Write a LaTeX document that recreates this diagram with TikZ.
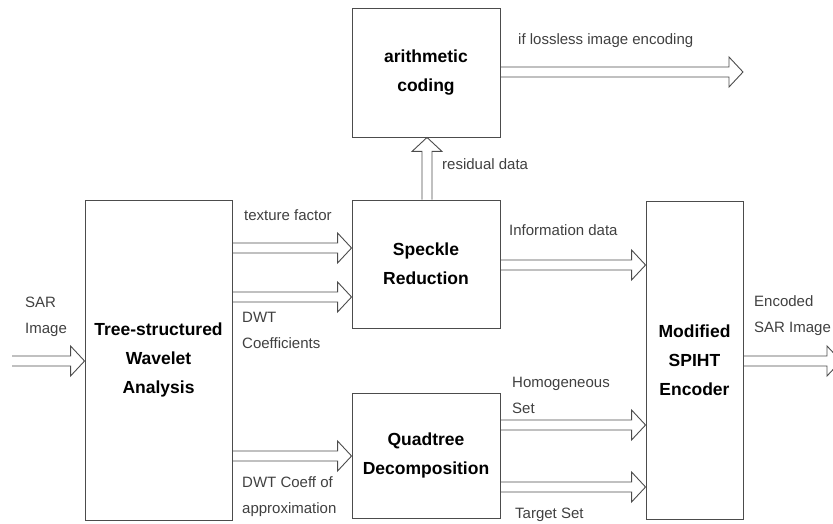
\documentclass[tikz,border=0pt]{standalone}
\usepackage{fontspec}
\setmainfont{Liberation Sans}
\usetikzlibrary{calc}
\tikzset{
  box/.style={draw=black!70, line width=0.9pt, fill=white, align=center, inner sep=0pt,
    font=\fontsize{17.5}{29}\selectfont\bfseries},
  lbl/.style={align=left, inner sep=0pt, anchor=base west, text=black!75,
    font=\fontsize{15}{25.5}\selectfont},
  blockarr/.style={draw=black!70, line width=0.9pt, line join=miter,
    to path={let \p1=(\tikztostart), \p2=(\tikztotarget),
      \n1={veclen(\x2-\x1,\y2-\y1)}, \n2={atan2(\y2-\y1,\x2-\x1)} in
      ($(\p1)+(\n2+90:5)$) -- ($(\p1)+(\n2:\n1-14)+(\n2+90:5)$) --
      ($(\p1)+(\n2:\n1-14)+(\n2+90:15)$) -- (\p2) --
      ($(\p1)+(\n2:\n1-14)+(\n2-90:15)$) -- ($(\p1)+(\n2:\n1-14)+(\n2-90:5)$) --
      ($(\p1)+(\n2-90:5)$)}}
}
\begin{document}
\begin{tikzpicture}[x=1pt,y=1pt]
\useasboundingbox (0,0) rectangle (833,-524);
\clip (0,0) rectangle (833,-524);
% boxes
\node[box, minimum width=148pt, minimum height=129pt] (arith) at (426,-72.5) {arithmetic\\coding};
\node[box, minimum width=148pt, minimum height=128pt] (speckle) at (426,-264) {Speckle\\Reduction};
\node[box, minimum width=148pt, minimum height=125pt] (quad) at (426,-455.5) {Quadtree\\Decomposition};
\node[box, minimum width=147pt, minimum height=320pt] (tree) at (158.5,-360) {Tree-structured\\Wavelet\\Analysis};
\node[box, minimum width=97pt, minimum height=318pt] (spiht) at (694.5,-360) {Modified\\SPIHT\\Encoder};
% free ends
\coordinate (in) at (12,-361);
\coordinate (out) at (841,-361);
\coordinate (lossless) at (743,-72);
% arrows
\draw[blockarr] (in) to (tree.west |- in);
\draw[blockarr] (tree.east |- 0,-248) to (speckle.west |- 0,-248);
\draw[blockarr] (tree.east |- 0,-297) to (speckle.west |- 0,-297);
\draw[blockarr] (tree.east |- 0,-456) to (quad.west |- 0,-456);
\draw[blockarr] (speckle.east |- 0,-265) to (spiht.west |- 0,-265);
\draw[blockarr] (quad.east |- 0,-425) to (spiht.west |- 0,-425);
\draw[blockarr] (quad.east |- 0,-487) to (spiht.west |- 0,-487);
\draw[blockarr] (spiht.east |- out) to (out);
\draw[blockarr] (arith.east |- lossless) to (lossless);
\draw[blockarr] (speckle.north -| 427,0) to (arith.south -| 427,0);
% labels
\node[lbl] (l1) at (25,-333) {SAR\\Image};
\node[lbl] (l2) at (244,-220) {texture factor};
\node[lbl] (l3) at (242,-348) {DWT\\Coefficients};
\node[lbl] (l4) at (242,-513) {DWT Coeff of\\approximation};
\node[lbl] (l5) at (518,-45) {if lossless image encoding};
\node[lbl] (l6) at (442,-170) {residual data};
\node[lbl] (l7) at (509,-235) {Information data};
\node[lbl] (l8) at (512,-413) {Homogeneous\\Set};
\node[lbl] (l9) at (515,-518) {Target Set};
\node[lbl] (l10) at (754,-332) {Encoded\\SAR Image};
\end{tikzpicture}
\end{document}
